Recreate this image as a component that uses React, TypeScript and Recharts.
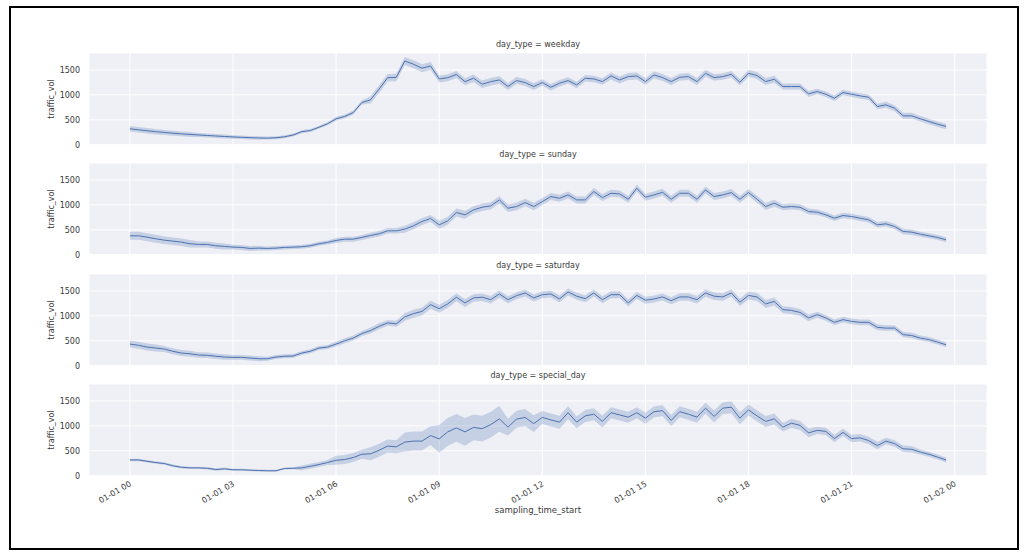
import React from 'react'
import { ComposedChart, Line, Area, XAxis, YAxis, CartesianGrid } from 'recharts'

// 15-minute slots over one day, in hours
const slots = Array.from({ length: 96 }, (_, i) => i / 4)
const tickHours = [0, 3, 6, 9, 12, 15, 18, 21, 24]
const tickLabels = ['01-01 00', '01-01 03', '01-01 06', '01-01 09', '01-01 12', '01-01 15', '01-01 18', '01-01 21', '01-02 00']
const yTicks = [0, 500, 1000, 1500]

const weekday = [
  320, 300, 280, 262, 247, 232, 218, 207,
  196, 186, 176, 166, 157, 149, 142, 136,
  133, 140, 160, 195, 262, 285, 350, 420,
  520, 568, 645, 845, 900, 1115, 1345, 1350,
  1680, 1615, 1535, 1580, 1320, 1345, 1410, 1265,
  1335, 1215, 1265, 1300, 1167, 1287, 1247, 1167,
  1247, 1153, 1233, 1287, 1200, 1333, 1320, 1267,
  1380, 1300, 1367, 1380, 1267, 1400, 1347, 1267,
  1353, 1367, 1267, 1433, 1347, 1367, 1413, 1253,
  1433, 1387, 1267, 1313, 1167, 1167, 1167, 1020,
  1067, 1013, 933, 1047, 1013, 980, 953, 767,
  800, 733, 580, 580, 520, 467, 413, 367,
]
const sunday = [
  380, 380, 353, 320, 293, 273, 253, 220,
  207, 207, 180, 167, 153, 147, 127, 133,
  127, 133, 147, 153, 160, 180, 220, 247,
  287, 313, 313, 347, 387, 420, 480, 480,
  513, 580, 667, 727, 600, 680, 847, 800,
  900, 953, 980, 1100, 933, 967, 1047, 967,
  1067, 1167, 1133, 1200, 1100, 1100, 1267, 1147,
  1233, 1220, 1113, 1333, 1153, 1200, 1253, 1113,
  1233, 1233, 1113, 1300, 1167, 1200, 1247, 1113,
  1247, 1113, 967, 1033, 953, 967, 953, 867,
  853, 800, 733, 787, 767, 733, 700, 600,
  620, 567, 467, 453, 413, 380, 347, 300,
]
const saturday = [
  435, 410, 375, 355, 335, 290, 255, 240,
  215, 210, 190, 175, 168, 168, 155, 140,
  140, 175, 190, 195, 255, 290, 355, 375,
  435, 500, 555, 645, 705, 790, 860, 840,
  980, 1045, 1090, 1225, 1145, 1240, 1375, 1260,
  1360, 1375, 1325, 1440, 1325, 1405, 1460, 1360,
  1425, 1440, 1340, 1480, 1395, 1345, 1460, 1325,
  1425, 1425, 1260, 1410, 1315, 1340, 1380, 1305,
  1380, 1380, 1325, 1460, 1395, 1380, 1460, 1275,
  1410, 1380, 1240, 1290, 1125, 1110, 1070, 960,
  1025, 960, 870, 925, 890, 870, 870, 770,
  755, 755, 625, 605, 555, 525, 475, 420,
]
const specialDay = [
  317, 317, 290, 265, 245, 200, 170, 158,
  158, 150, 125, 138, 120, 120, 112, 105,
  100, 100, 145, 150, 158, 190, 225, 265,
  310, 325, 365, 430, 440, 510, 595, 580,
  675, 695, 695, 805, 740, 880, 960, 880,
  970, 945, 1025, 1140, 975, 1135, 1170, 1045,
  1170, 1120, 1075, 1265, 1075, 1200, 1235, 1090,
  1265, 1220, 1175, 1265, 1155, 1285, 1305, 1110,
  1285, 1235, 1175, 1355, 1190, 1355, 1375, 1155,
  1320, 1200, 1090, 1140, 975, 1055, 1010, 860,
  910, 890, 745, 870, 745, 760, 705, 605,
  695, 645, 540, 530, 475, 430, 375, 315,
]

// confidence band half-width, one value per hour
const weekdayCi = [55, 50, 40, 35, 30, 30, 40, 75, 80, 70, 75, 70, 65, 65, 70, 70, 70, 65, 70, 60, 55, 55, 60, 55]
const sundayCi = [80, 75, 60, 50, 40, 40, 50, 55, 70, 80, 75, 75, 70, 70, 70, 70, 70, 70, 70, 60, 55, 55, 55, 50]
const saturdayCi = [70, 60, 55, 50, 40, 40, 50, 60, 80, 80, 75, 70, 70, 70, 70, 70, 75, 75, 80, 70, 60, 60, 55, 50]
const specialCi = [25, 25, 25, 20, 20, 50, 90, 130, 190, 280, 260, 170, 130, 120, 110, 110, 110, 120, 110, 90, 75, 75, 65, 50]

const panels = [
  { name: 'weekday', values: weekday, ci: weekdayCi },
  { name: 'sunday', values: sunday, ci: sundayCi },
  { name: 'saturday', values: saturday, ci: saturdayCi },
  { name: 'special_day', values: specialDay, ci: specialCi },
]

const font = '"DejaVu Sans", sans-serif'
const blue = '#4C72B0'
const textColor = '#3a3a3a'

const XTick = (props: any) => {
  const { x, y, payload } = props
  const idx = tickHours.indexOf(payload.value)
  return (
    <g transform={`translate(${x},${y})`}>
      <text x={0} y={0} dy={4} textAnchor="end" fontSize={8} fill={textColor} fontFamily={font} transform="rotate(-30)">
        {tickLabels[idx]}
      </text>
    </g>
  )
}

const NoTick = () => <g />

const Panel = ({ p, top, last }: { p: (typeof panels)[number]; top: number; last: boolean }) => {
  const rows = slots.map((t, i) => {
    const c = p.ci[Math.floor(i / 4)]
    return { t, v: p.values[i], band: [p.values[i] - c, p.values[i] + c] }
  })
  const axisH = last ? 40 : 8
  const h = 92 + axisH
  return (
    <>
      <div style={{ position: 'absolute', left: 89, top: top - 13, width: 898, textAlign: 'center', fontSize: 8, lineHeight: '10px', color: textColor, fontFamily: font }}>
        day_type = {p.name}
      </div>
      <div style={{ position: 'absolute', left: 12, top: top + 41, width: 80, textAlign: 'center', fontSize: 8, lineHeight: '10px', color: textColor, fontFamily: font, transform: 'rotate(-90deg)' }}>
        traffic_vol
      </div>
      <div style={{ position: 'absolute', left: 0, top, width: 1024, height: h }}>
        <ComposedChart width={1024} height={h} data={rows} margin={{ top: 0, right: 37, bottom: 0, left: 49 }}>
          <CartesianGrid stroke="#fff" strokeWidth={1} fill="#EFEFF6" fillOpacity={1} />
          <XAxis
            dataKey="t"
            type="number"
            domain={[-1.19, 24.94]}
            ticks={tickHours}
            interval={0}
            allowDataOverflow
            axisLine={false}
            tickLine={false}
            tickSize={0}
            tickMargin={6}
            height={axisH}
            tick={last ? <XTick /> : <NoTick />}
          />
          <YAxis
            type="number"
            domain={[-5, 1840]}
            ticks={yTicks}
            interval={0}
            allowDataOverflow
            width={40}
            axisLine={false}
            tickLine={false}
            tickSize={0}
            tickMargin={9}
            tick={{ fontSize: 8, fill: textColor, fontFamily: font }}
          />
          <Area dataKey="band" stroke="none" fill={blue} fillOpacity={0.25} isAnimationActive={false} />
          <Line dataKey="v" stroke={blue} strokeWidth={1} dot={false} isAnimationActive={false} />
        </ComposedChart>
      </div>
    </>
  )
}

const App = () => {
  const tops = [53, 163, 274, 384]
  return (
    <div style={{ position: 'fixed', left: 0, top: 0, width: 1024, height: 555, overflow: 'hidden', background: '#fff', fontFamily: font }}>
      <svg width={1024} height={555} style={{ position: 'absolute', left: 0, top: 0 }}>
        <rect x={10} y={7} width={1008} height={542} fill="none" stroke="#000" strokeWidth={2} />
      </svg>
      {panels.map((p, i) => (
        <Panel key={p.name} p={p} top={tops[i]} last={i === panels.length - 1} />
      ))}
      <div style={{ position: 'absolute', left: 89, top: 505, width: 898, textAlign: 'center', fontSize: 8.5, lineHeight: '10px', color: textColor, fontFamily: font }}>
        sampling_time_start
      </div>
    </div>
  )
}

export default App
